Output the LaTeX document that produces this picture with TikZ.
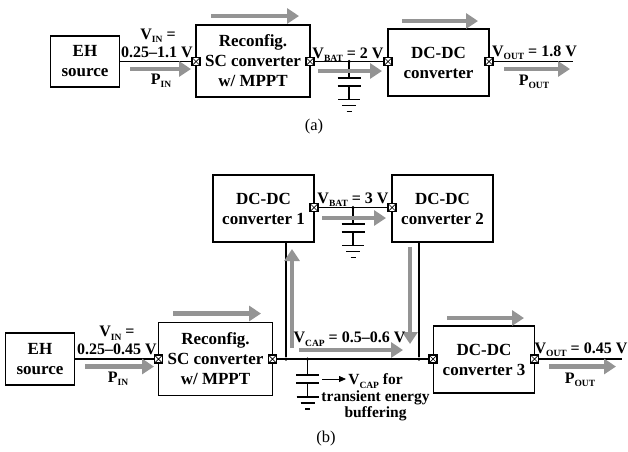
\documentclass[tikz,border=0pt]{standalone}
\usepackage{fontspec}
\setmainfont{Liberation Serif}
\usetikzlibrary{arrows.meta}
\newcommand{\sbt}[1]{\raisebox{-.22em}{\fontsize{9.5}{10}\selectfont #1}}
\tikzset{
  box/.style={draw,line width=1.2pt,inner sep=0pt,align=center,font=\bfseries\fontsize{17}{20}\selectfont},
  lab/.style={inner sep=0pt,anchor=base,font=\bfseries\fontsize{16}{18}\selectfont},
  wire/.style={line width=1.2pt},
  flow/.style={-{Triangle[length=12pt,width=15pt]},line width=4.5pt,black!42},
  dot/.style={circle,fill=black,inner sep=0pt,minimum size=3.5pt},
  port/.style={draw,fill=white,line width=1.1pt,inner sep=0pt,minimum size=8pt,
    path picture={\draw[line width=.7pt] (path picture bounding box.north west) -- (path picture bounding box.south east)
      (path picture bounding box.north east) -- (path picture bounding box.south west);}},
  capgnd/.pic={
    \draw[wire] (0,0) -- (0,16);
    \draw[line width=2pt] (-11.5,16) -- (11.5,16);
    \draw[line width=2pt] (-11.5,24) -- (11.5,24);
    \draw[wire] (0,24) -- (0,38);
    \draw[wire] (-11,38) -- (11,38);
    \draw[wire] (-7,44) -- (7,44);
    \draw[wire] (-2.5,50) -- (2.5,50);
  }
}
\begin{document}
\begin{tikzpicture}[x=1pt,y=-1pt]
\useasboundingbox (0,0) rectangle (628,451);
% (a)
\node[box,minimum width=69pt,minimum height=51pt] (ehA) at (85,61.5) {EH\\source};
\node[box,minimum width=114pt,minimum height=72pt] (scA) at (253,61) {Reconfig.\\SC converter\\w/ MPPT};
\node[box,minimum width=101pt,minimum height=67pt] (dcA) at (438.5,62.5) {DC-DC\\converter};
\node[port] (scAin) at (196,61.5) {};
\node[port] (scAout) at (310,61.5) {};
\node[port] (dcAin) at (388,61.5) {};
\node[port] (dcAout) at (489,61.5) {};
\node[dot] (capA) at (349,61.5) {};
\coordinate (endA) at (573,61.5);
\draw[wire] (ehA.east |- scAin) -- (scAin);
\draw[wire] (scAout) -- (dcAin);
\draw[wire] (dcAout) -- (endA);
\pic at (capA) {capgnd};
\draw[flow] (211,16) -- (299,16);
\draw[flow] (130,69) -- (191,69);
\draw[flow] (318,71) -- (382,71);
\draw[flow] (402,21) -- (478,21);
\draw[flow] (504,69) -- (570,69);
\node[lab] (vinA) at (158,39) {V\sbt{IN} =};
\node[lab] (rangeA) at (157,57.5) {0.25--1.1 V};
\node[lab] (pinA) at (161,84) {P\sbt{IN}};
\node[lab] (vbatA) at (348,58) {V\sbt{BAT} = 2 V};
\node[lab] (voutA) at (534.5,56) {V\sbt{OUT} = 1.8 V};
\node[lab] (poutA) at (534,85) {P\sbt{OUT}};
\node[font=\fontsize{16.5}{18}\selectfont] (capa) at (314,127) {(a)};
% (b)
\node[box,minimum width=101pt,minimum height=67pt] (dc1) at (263.5,208.5) {DC-DC\\converter 1};
\node[box,minimum width=101pt,minimum height=67pt] (dc2) at (442.5,208.5) {DC-DC\\converter 2};
\node[box,minimum width=69pt,minimum height=52pt] (ehB) at (40,359) {EH\\source};
\node[box,minimum width=114pt,minimum height=73pt] (scB) at (215.5,359) {Reconfig.\\SC converter\\w/ MPPT};
\node[box,minimum width=101.5pt,minimum height=67pt] (dc3) at (484,359.5) {DC-DC\\converter 3};
\node[port] (dc1out) at (314,207.5) {};
\node[port] (dc2in) at (392,207.5) {};
\node[port] (scBin) at (158.5,359) {};
\node[port] (scBout) at (272.5,359) {};
\node[port] (dc3in) at (433,359) {};
\node[port] (dc3out) at (534.5,359) {};
\node[dot] (capT) at (353,207.5) {};
\node[dot] (dotL) at (286,359) {};
\node[dot] (capB) at (307.5,359) {};
\node[dot] (dotR) at (419,359) {};
\coordinate (endB) at (622,359);
\draw[wire] (dc1out) -- (dc2in);
\draw[wire] (ehB.east |- scBin) -- (scBin);
\draw[wire] (scBout) -- (dc3in);
\draw[wire] (dc3out) -- (endB);
\draw[wire] (dc1.south -| dotL) -- (dotL);
\draw[wire] (dc2.south -| dotR) -- (dotR);
\pic at (capT) {capgnd};
\pic at (capB) {capgnd};
\draw[flow] (322,218) -- (386,218);
\draw[flow] (292,348) -- (292,249);
\draw[flow] (410,247) -- (410,344);
\draw[flow] (173,313.5) -- (261,313.5);
\draw[flow] (85,366.5) -- (154,366.5);
\draw[flow] (299,350) -- (403,350);
\draw[flow] (447,318) -- (524,318);
\draw[flow] (549,366.5) -- (616,366.5);
\node[lab] (vbatB) at (353,203) {V\sbt{BAT} = 3 V};
\node[lab] (vinB) at (117,336.5) {V\sbt{IN} =};
\node[lab] (rangeB) at (117,354) {0.25--0.45 V};
\node[lab] (pinB) at (118,382) {P\sbt{IN}};
\node[lab] (vcap) at (349.5,342.5) {V\sbt{CAP} = 0.5--0.6 V};
\node[lab] (voutB) at (581,353) {V\sbt{OUT} = 0.45 V};
\node[lab] (poutB) at (580,383) {P\sbt{OUT}};
\node[inner sep=0pt,align=center,font=\bfseries\fontsize{15.5}{16.5}\selectfont] (note) at (375.5,397.5) {V\sbt{CAP} for\\transient energy\\buffering};
\coordinate (noteA) at (322,379);
\draw[-{Triangle[length=7pt,width=6pt]},line width=.8pt] (noteA) -- ++(24,0);
\node[font=\fontsize{16.5}{18}\selectfont] (capb) at (326,439) {(b)};
\end{tikzpicture}
\end{document}
